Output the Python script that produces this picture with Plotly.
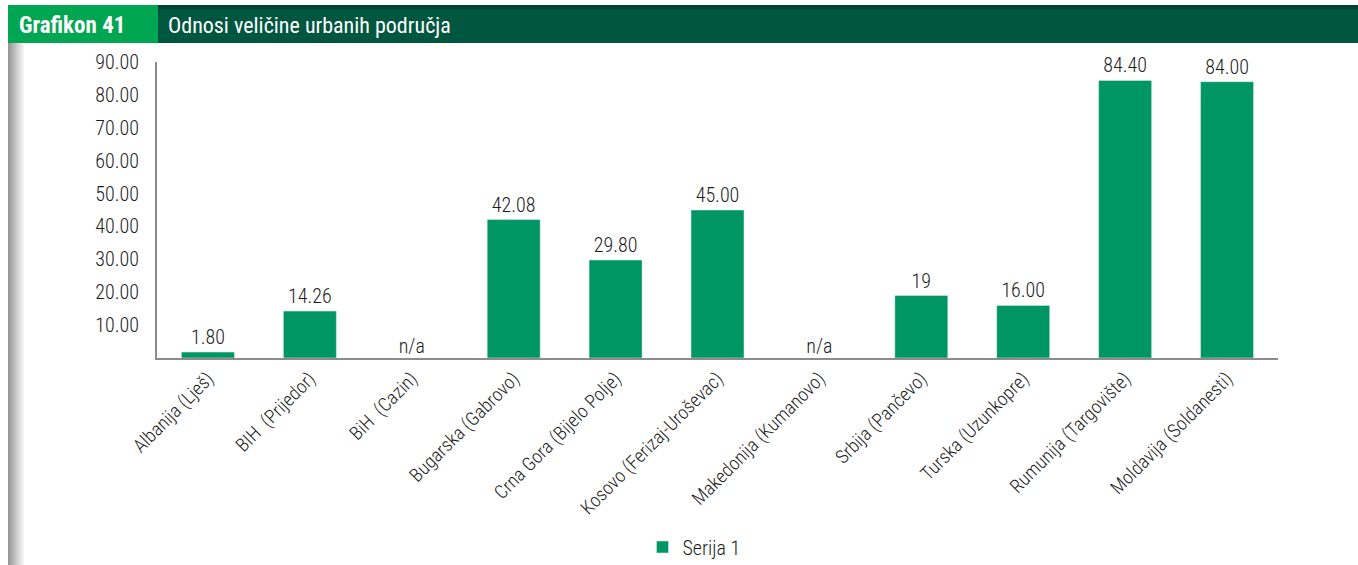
import plotly.graph_objects as go

# Urban area size ratios by city
categories = [
    "Albanija (Lješ)", "BIH  (Prijedor)", "BiH  (Cazin)", "Bugarska (Gabrovo)",
    "Crna Gora (Bijelo Polje)", "Kosovo (Ferizaj-Uroševac)", "Makedonija (Kumanovo)",
    "Srbija (Pančevo)", "Turska (Uzunkopre)", "Rumunija (Targovište)", "Moldavija (Soldanesti)",
]
values = [1.80, 14.26, None, 42.08, 29.80, 45.00, None, 19, 16.00, 84.40, 84.00]
labels = ["1.80", "14.26", "n/a", "42.08", "29.80", "45.00", "n/a", "19", "16.00", "84.40", "84.00"]
y_ticks = [10, 20, 30, 40, 50, 60, 70, 80, 90]
y_tick_labels = ["10.00", "20.00", "30.00", "40.00", "50.00", "60.00", "70.00", "80.00", "90.00"]

FONT = "Roboto Condensed, DejaVu Sans Condensed, sans-serif"
BAR = "#009664"
TXT = "#1c1c1c"
LIGHT = 300

W, H = 1358, 565
L, R, T, B = 157, 1278, 62, 358


def px(x):
    return (x - L) / (R - L)


def py(y):
    return (B - y) / (B - T)


fig = go.Figure()
fig.add_trace(go.Bar(
    x=categories, y=values, name="Serija 1", marker_color=BAR, width=0.52,
    text=[lab if v is not None else "" for lab, v in zip(labels, values)],
    textposition="outside", cliponaxis=False,
    textfont=dict(family=FONT, size=20, color=TXT, weight=LIGHT),
))
# "n/a" markers for missing values, sitting on the baseline
na_x = [c for c, v in zip(categories, values) if v is None]
na_t = [lab for lab, v in zip(labels, values) if v is None]
fig.add_trace(go.Scatter(
    x=na_x, y=[0] * len(na_x), mode="text", text=na_t, textposition="top center",
    textfont=dict(family=FONT, size=20, color=TXT, weight=LIGHT), showlegend=False,
    hoverinfo="skip", cliponaxis=False,
))

shapes = []
# left grey shaded border
greys = ["#9a9a9a", "#a6a6a6", "#b3b3b3", "#c0c0c0", "#cdcdcd", "#dadada", "#e6e6e6", "#f2f2f2"]
for i, g in enumerate(greys):
    shapes.append(dict(type="rect", xref="paper", yref="paper",
                       x0=px(8 + 2 * i), x1=px(10 + 2 * i), y0=py(570), y1=py(43),
                       fillcolor=g, line_width=0, layer="below"))
# header band
shapes.append(dict(type="rect", xref="paper", yref="paper", x0=px(8), x1=px(W + 5),
                   y0=py(43), y1=py(5), fillcolor="#00563f", line_width=0))
shapes.append(dict(type="rect", xref="paper", yref="paper", x0=px(158), x1=px(W + 5),
                   y0=py(9), y1=py(5), fillcolor="#004232", line_width=0))
shapes.append(dict(type="rect", xref="paper", yref="paper", x0=px(8), x1=px(158),
                   y0=py(43), y1=py(5), fillcolor="#00a651", line_width=0))

annotations = [
    dict(text="Grafikon 41", xref="paper", yref="paper", x=px(17), y=py(25),
         xanchor="left", yanchor="middle", showarrow=False,
         font=dict(family=FONT, size=23, color="white", weight="bold")),
    dict(text="Odnosi veličine urbanih područja", xref="paper", yref="paper", x=px(166), y=py(25),
         xanchor="left", yanchor="middle", showarrow=False,
         font=dict(family=FONT, size=22, color="white")),
]

fig.update_layout(
    width=W, height=H, margin=dict(l=L, r=W - R, t=T, b=H - B, autoexpand=False),
    plot_bgcolor="white", paper_bgcolor="white",
    shapes=shapes, annotations=annotations, bargap=0.48,
    font=dict(family=FONT, color=TXT),
    showlegend=True,
    legend=dict(orientation="h", x=px(694), y=py(547), xanchor="center", yanchor="middle",
                font=dict(family=FONT, size=20, color=TXT, weight=LIGHT)),
    xaxis=dict(tickangle=-45, showline=True, linecolor="#8c8c8c", linewidth=2,
               tickfont=dict(family=FONT, size=19, color=TXT, weight=LIGHT), ticks="",
               showgrid=False, automargin=False),
    yaxis=dict(range=[0, 90], tickvals=y_ticks, ticktext=y_tick_labels, showline=True,
               linecolor="#8c8c8c", linewidth=2, showgrid=False, zeroline=False, ticks="",
               ticklabelstandoff=12, tickfont=dict(family=FONT, size=20, color=TXT, weight=LIGHT),
               automargin=False),
)

fig.write_html("out.html")
